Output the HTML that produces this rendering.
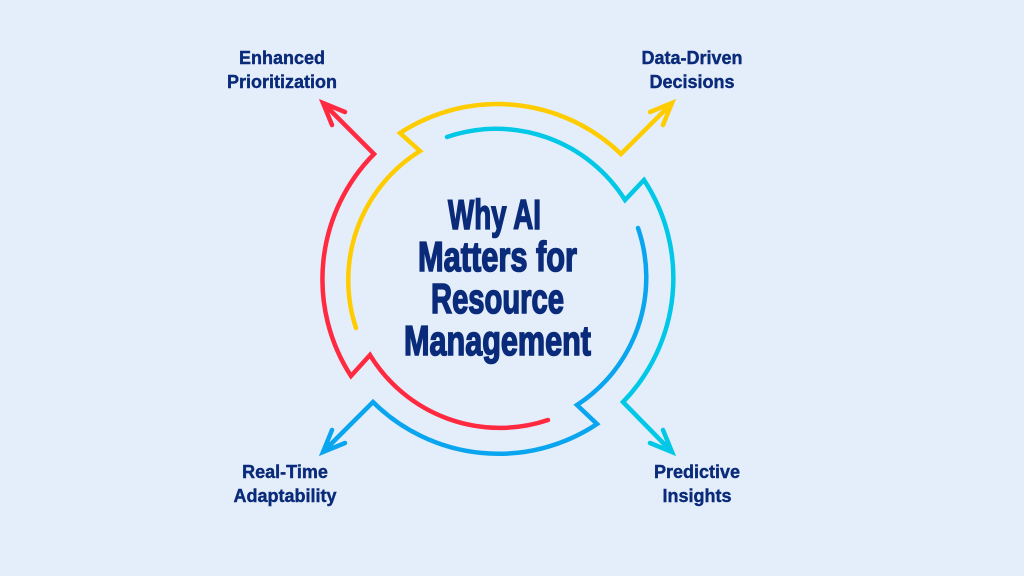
<!DOCTYPE html>
<html><head><meta charset="utf-8"><style>
html,body{margin:0;padding:0;background:#e4eefb;}
svg{display:block}
</style></head><body>
<svg width="1024" height="576" viewBox="0 0 1024 576" xmlns="http://www.w3.org/2000/svg">
<rect width="1024" height="576" fill="#e4eefb"/>
<g fill="none" stroke-width="4.5" stroke-linecap="round" stroke-linejoin="miter">
<path stroke="#ff2a3f" d="M548 420 A152 152 0 0 1 370 355 L351 376 A178 178 0 0 1 374 154 L323 103 M332 125 L323 103 L345 112"/>
<path stroke="#ffcc00" d="M356 328 A152 152 0 0 1 420 151 L400 133 A178 178 0 0 1 621 154 L672 103 M650 112 L672 103 L663 125"/>
<path stroke="#00c8e6" d="M447 137 A152 152 0 0 1 625 200 L644 180 A178 178 0 0 1 623 402 L672 452 M663 430 L672 452 L650 443"/>
<path stroke="#0aa5ef" d="M638 228 A152 152 0 0 1 577 405 L597 424 A178 178 0 0 1 373 402 L323 452 M345 443 L323 452 L332 430"/>
</g>
<g font-family="Liberation Sans, sans-serif" font-weight="bold" fill="#0a2a7a" stroke="#0a2a7a" stroke-width="1.6" font-size="42">
<text x="448" y="229" textLength="93" lengthAdjust="spacingAndGlyphs">Why AI</text>
<text x="418" y="271" textLength="159" lengthAdjust="spacingAndGlyphs">Matters for</text>
<text x="431" y="313" textLength="133" lengthAdjust="spacingAndGlyphs">Resource</text>
<text x="404" y="355" textLength="187" lengthAdjust="spacingAndGlyphs">Management</text>
</g>
<g font-family="Liberation Sans, sans-serif" font-weight="bold" fill="#0a2a7a" stroke="#0a2a7a" stroke-width="0.4" font-size="18" text-anchor="middle">
<text x="282" y="64">Enhanced</text>
<text x="282" y="88">Prioritization</text>
<text x="692" y="64">Data-Driven</text>
<text x="692" y="88">Decisions</text>
<text x="285" y="478">Real-Time</text>
<text x="285" y="502">Adaptability</text>
<text x="697" y="478">Predictive</text>
<text x="697" y="502">Insights</text>
</g>
</svg>
</body></html>
